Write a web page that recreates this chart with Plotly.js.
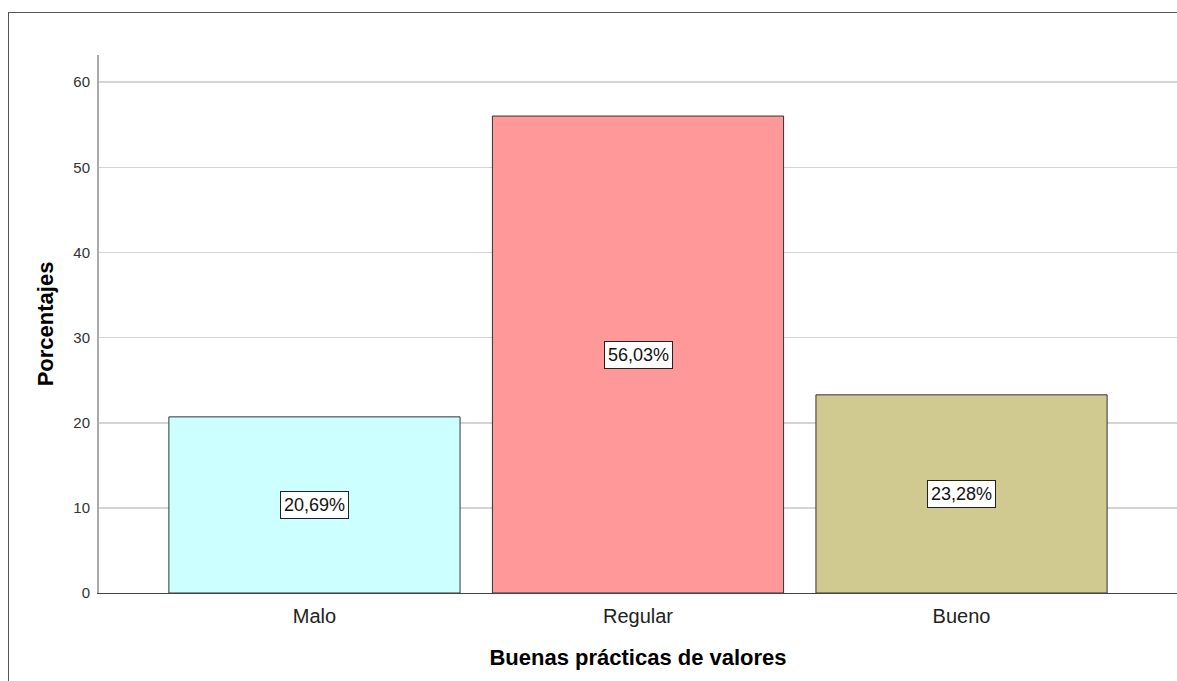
<!DOCTYPE html>
<html>
<head>
<meta charset="utf-8">
<script src="https://cdn.plot.ly/plotly-3.0.1.min.js"></script>
<style>
  html, body { margin: 0; padding: 0; background: #fff; overflow: hidden; }
  #chart { position: absolute; left: 0; top: 0; width: 1177px; height: 681px; }
  #frame { position: absolute; left: 8px; top: 12px; width: 1300px; height: 800px;
           border: 1px solid #555; pointer-events: none; }
</style>
</head>
<body>
<div id="chart"></div>
<div id="frame"></div>
<script>
const categories = ["Malo", "Regular", "Bueno"];
const percentages = [20.69, 56.03, 23.28];
const barLabels = ["20,69%", "56,03%", "23,28%"];
const barColors = ["#CCFFFF", "#FF9999", "#D0C990"];
const yTicks = [0, 10, 20, 30, 40, 50, 60];

const FONT = "Liberation Sans, Arial, sans-serif";

const trace = {
  type: "bar",
  x: categories,
  y: percentages,
  width: 0.9,
  marker: { color: barColors, line: { color: "#333333", width: 1 } },
  hoverinfo: "skip"
};

const annotations = categories.map((c, i) => ({
  x: c, y: percentages[i] / 2, xref: "x", yref: "y",
  text: barLabels[i], showarrow: false,
  font: { family: FONT, size: 18, color: "#111" },
  bgcolor: "#ffffff", bordercolor: "#222222", borderwidth: 1, borderpad: 3
}));

const layout = {
  width: 1177, height: 681,
  margin: { l: 99, r: 0, t: 55, b: 88 },
  paper_bgcolor: "#ffffff", plot_bgcolor: "#ffffff",
  showlegend: false,
  font: { family: FONT, color: "#222" },
  xaxis: {
    type: "category",
    range: [-0.666, 2.666],
    showgrid: false,
    showline: true, linecolor: "#444444", linewidth: 1,
    ticks: "", ticklabelstandoff: 5,
    tickfont: { family: FONT, size: 20, color: "#222" },
    title: { text: "<b>Buenas prácticas de valores</b>", standoff: 23,
             font: { family: FONT, size: 22, color: "#000" } },
    fixedrange: true, zeroline: false
  },
  yaxis: {
    range: [0, 63.2],
    tickvals: yTicks, ticktext: yTicks.map(String),
    showgrid: true, gridcolor: "#d4d4d4", gridwidth: 1.5,
    showline: true, linecolor: "#aaaaaa", linewidth: 2,
    ticks: "", ticklabelstandoff: 4,
    tickfont: { family: FONT, size: 15, color: "#333" },
    title: { text: "<b>Porcentajes</b>", standoff: 14,
             font: { family: FONT, size: 22, color: "#000" } },
    zeroline: false, fixedrange: true
  },
  annotations: annotations,
  bargap: 0.1
};

Plotly.newPlot("chart", [trace], layout, { displayModeBar: false, staticPlot: true });
</script>
</body>
</html>
